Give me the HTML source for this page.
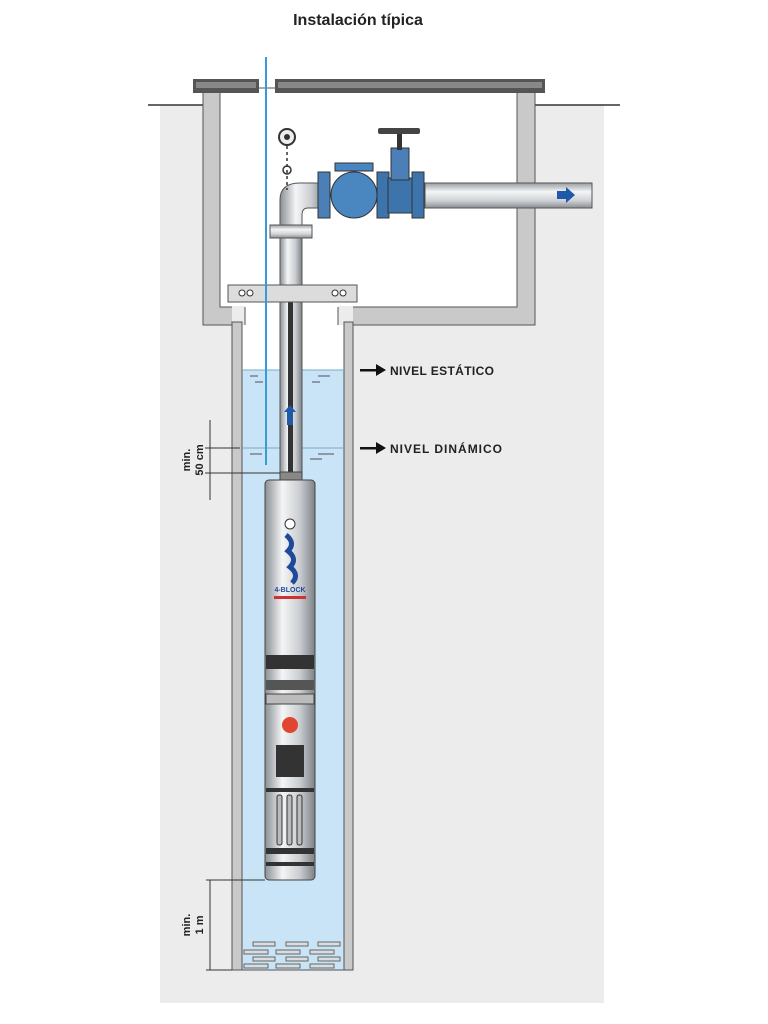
<!DOCTYPE html>
<html><head><meta charset="utf-8"><style>
html,body{margin:0;padding:0;background:#fff;}
svg{display:block;font-family:"Liberation Sans",sans-serif;}
</style></head><body>
<svg width="768" height="1024" viewBox="0 0 768 1024" xmlns="http://www.w3.org/2000/svg">
<defs>
<linearGradient id="pv" x1="0" x2="1" y1="0" y2="0">
<stop offset="0" stop-color="#8a8f94"/><stop offset="0.35" stop-color="#f4f5f6"/><stop offset="0.7" stop-color="#c9ccd0"/><stop offset="1" stop-color="#7d8287"/></linearGradient>
<linearGradient id="ph" x1="0" x2="0" y1="0" y2="1">
<stop offset="0" stop-color="#9a9ea2"/><stop offset="0.35" stop-color="#f4f5f6"/><stop offset="0.7" stop-color="#d0d3d6"/><stop offset="1" stop-color="#8a8e92"/></linearGradient>
</defs>
<text x="358" y="25" text-anchor="middle" font-size="16" font-weight="bold" fill="#222">Instalación típica</text>
<rect x="160" y="105" width="444" height="898" fill="#ececec"/>
<line x1="148" y1="105" x2="204" y2="105" stroke="#333" stroke-width="1.5"/>
<line x1="535" y1="105" x2="620" y2="105" stroke="#333" stroke-width="1.5"/>
<rect x="203" y="88" width="332" height="237" fill="#c9c9c9" stroke="#555"/>
<rect x="220" y="88" width="297" height="219" fill="#fff" stroke="#555"/>
<rect x="242" y="306" width="102" height="20" fill="#fff"/>
<rect x="232" y="306" width="13" height="20" fill="#ececec"/>
<rect x="338" y="306" width="15" height="20" fill="#ececec"/>
<line x1="245" y1="307" x2="245" y2="325" stroke="#555"/>
<line x1="338" y1="307" x2="338" y2="325" stroke="#555"/>
<rect x="193" y="79" width="66" height="14" fill="#555"/>
<rect x="196" y="82" width="60" height="6" fill="#888"/>
<rect x="275" y="79" width="270" height="14" fill="#555"/>
<rect x="278" y="82" width="264" height="6" fill="#888"/>
<rect x="242" y="325" width="102" height="645" fill="#fff"/>
<rect x="242" y="370" width="102" height="600" fill="#c8e4f6"/>
<rect x="232" y="322" width="10" height="648" fill="#c9c9c9" stroke="#555"/>
<rect x="344" y="322" width="9" height="648" fill="#c9c9c9" stroke="#555"/>
<line x1="232" y1="970" x2="353" y2="970" stroke="#555"/>
<line x1="242" y1="370" x2="344" y2="370" stroke="#7aa8c8"/>
<line x1="242" y1="448" x2="344" y2="448" stroke="#7aa8c8"/>
<g stroke="#667" stroke-width="1.2">
<line x1="250" y1="376" x2="258" y2="376"/><line x1="255" y1="382" x2="263" y2="382"/><line x1="318" y1="376" x2="330" y2="376"/><line x1="312" y1="382" x2="320" y2="382"/>
<line x1="250" y1="454" x2="262" y2="454"/><line x1="318" y1="454" x2="334" y2="454"/><line x1="310" y1="459" x2="322" y2="459"/></g>
<g fill="#d8dde2" stroke="#666" stroke-width="1">
<rect x="253" y="942" width="22" height="4"/><rect x="286" y="942" width="22" height="4"/><rect x="318" y="942" width="22" height="4"/>
<rect x="244" y="950" width="24" height="4"/><rect x="276" y="950" width="24" height="4"/><rect x="310" y="950" width="24" height="4"/>
<rect x="253" y="957" width="22" height="4"/><rect x="286" y="957" width="22" height="4"/><rect x="318" y="957" width="22" height="4"/>
<rect x="244" y="964" width="24" height="4"/><rect x="276" y="964" width="24" height="4"/><rect x="310" y="964" width="24" height="4"/></g>
<rect x="280" y="230" width="22" height="250" fill="url(#pv)" stroke="#555"/>
<rect x="288" y="302" width="5" height="178" fill="#333"/>
<polygon points="290,405 296,412 293,412 293,425 287,425 287,412 284,412" fill="#1f5aa8"/>
<path d="M280 232 L280 200 Q280 183 300 183 L325 183 L325 208 L308 208 Q302 208 302 215 L302 232 Z" fill="url(#pv)" stroke="#555"/>
<rect x="270" y="225" width="42" height="13" fill="url(#ph)" stroke="#555"/>
<rect x="425" y="183" width="167" height="25" fill="url(#ph)" stroke="#555"/>
<polygon points="557,191 566,191 566,187 575,195 566,203 566,199 557,199" fill="#1f5aa8"/>
<rect x="318" y="172" width="12" height="46" fill="#4a7fb8" stroke="#333"/>
<circle cx="354" cy="195" r="23" fill="#4a86c0" stroke="#333"/>
<rect x="335" y="163" width="38" height="8" fill="#4a86c0" stroke="#333"/>
<rect x="377" y="172" width="12" height="46" fill="#3e74ac" stroke="#333"/>
<rect x="388" y="178" width="25" height="35" fill="#3e74ac" stroke="#333"/>
<rect x="391" y="148" width="18" height="32" fill="#4a7fb8" stroke="#333"/>
<rect x="397" y="134" width="5" height="16" fill="#333"/>
<rect x="378" y="128" width="42" height="6" rx="2" fill="#444"/>
<rect x="412" y="172" width="12" height="46" fill="#3e74ac" stroke="#333"/>
<circle cx="287" cy="137" r="8" fill="#eee" stroke="#333" stroke-width="2"/>
<circle cx="287" cy="137" r="3" fill="#333"/>
<circle cx="287" cy="170" r="4" fill="none" stroke="#333" stroke-width="1.5"/>
<line x1="287" y1="146" x2="287" y2="190" stroke="#333" stroke-dasharray="3,3" stroke-width="1.5"/>
<rect x="228" y="285" width="129" height="17" fill="#dcdcdc" stroke="#555"/>
<g fill="#fff" stroke="#333"><circle cx="242" cy="293" r="3"/><circle cx="250" cy="293" r="3"/><circle cx="335" cy="293" r="3"/><circle cx="343" cy="293" r="3"/></g>
<line x1="266" y1="57" x2="266" y2="465" stroke="#3a9ad6" stroke-width="2"/>
<rect x="280" y="472" width="22" height="10" fill="#888" stroke="#444"/>
<rect x="265" y="480" width="50" height="400" rx="4" fill="url(#pv)" stroke="#444"/>
<circle cx="290" cy="524" r="5" fill="#fff" stroke="#333"/>
<path d="M286 535 q10 8 2 16 q10 8 2 16 q10 8 2 16" stroke="#1f4a9a" stroke-width="5" fill="none"/>
<text x="290" y="592" font-size="7" font-weight="bold" text-anchor="middle" fill="#1f4a9a">4-BLOCK</text>
<rect x="274" y="596" width="32" height="3" fill="#c33"/>
<rect x="266" y="655" width="48" height="14" fill="#333"/>
<rect x="266" y="680" width="48" height="10" fill="#555"/>
<rect x="266" y="694" width="48" height="10" fill="#bbb" stroke="#444"/>
<circle cx="290" cy="725" r="8" fill="#e2452f"/>
<rect x="276" y="745" width="28" height="32" fill="#333"/>
<g fill="#bbb" stroke="#333"><rect x="277" y="795" width="5" height="50" rx="2"/><rect x="287" y="795" width="5" height="50" rx="2"/><rect x="297" y="795" width="5" height="50" rx="2"/></g>
<rect x="266" y="788" width="48" height="4" fill="#333"/>
<rect x="266" y="848" width="48" height="6" fill="#333"/>
<rect x="266" y="862" width="48" height="4" fill="#333"/>
<g stroke="#333" stroke-width="1">
<line x1="210" y1="420" x2="210" y2="500"/>
<line x1="205" y1="448" x2="240" y2="448"/><line x1="205" y1="473" x2="280" y2="473"/>
<line x1="206" y1="880" x2="265" y2="880"/><line x1="206" y1="970" x2="232" y2="970"/>
<line x1="210" y1="880" x2="210" y2="970"/></g>
<text transform="translate(190,460) rotate(-90)" font-size="11" font-weight="bold" text-anchor="middle" fill="#222">min.</text>
<text transform="translate(203,460) rotate(-90)" font-size="11" font-weight="bold" text-anchor="middle" fill="#222">50 cm</text>
<text transform="translate(190,925) rotate(-90)" font-size="11" font-weight="bold" text-anchor="middle" fill="#222">min.</text>
<text transform="translate(203,925) rotate(-90)" font-size="11" font-weight="bold" text-anchor="middle" fill="#222">1 m</text>
<g fill="#111"><rect x="360" y="369" width="18" height="2.5"/><polygon points="376,364 386,370 376,376"/>
<rect x="360" y="447" width="18" height="2.5"/><polygon points="376,442 386,448 376,454"/></g>
<text x="390" y="375" font-size="12" font-weight="bold" fill="#222" textLength="104">NIVEL ESTÁTICO</text>
<text x="390" y="453" font-size="12" font-weight="bold" fill="#222" textLength="112">NIVEL DINÁMICO</text>
</svg>
</body></html>
